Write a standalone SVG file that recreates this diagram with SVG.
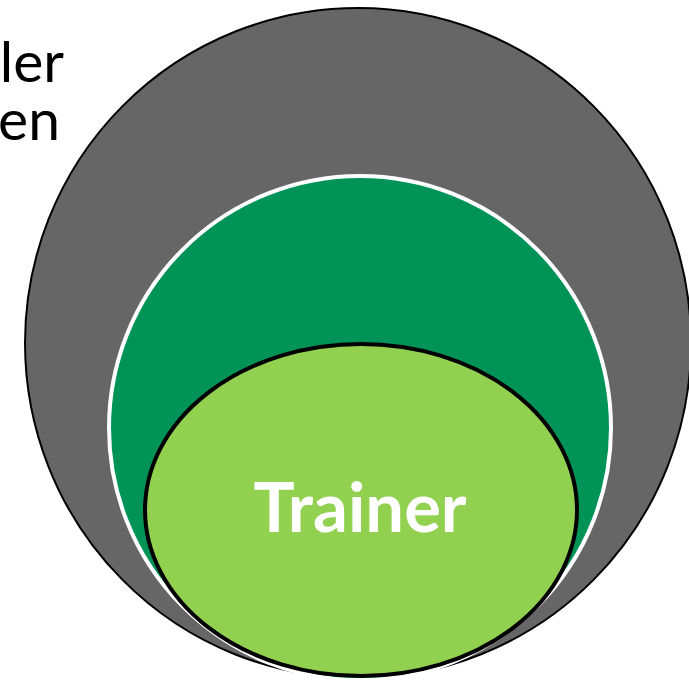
<svg xmlns="http://www.w3.org/2000/svg" width="689" height="680" viewBox="0 0 689 680">
<style>
.side{font-family:Lato,"Open Sans","Liberation Sans",sans-serif;font-size:57px;fill:#000}
.lbl{font-family:Lato,"Open Sans","Liberation Sans",sans-serif;font-size:68px;font-weight:bold;fill:#fff}
</style>
<rect width="689" height="680" fill="#fff"/>
<g id="side-text">
<text class="side" x="64" y="82" text-anchor="end">ler</text>
<text class="side" x="60" y="140" text-anchor="end">en</text>
</g>
<g id="outer">
<ellipse cx="358" cy="343" rx="333" ry="335" fill="#666666" stroke="#000" stroke-width="2"/>
</g>
<g id="middle">
<ellipse cx="360" cy="428" rx="251" ry="252" fill="#009357" stroke="#fff" stroke-width="4"/>
</g>
<g id="inner">
<ellipse cx="361" cy="510" rx="216" ry="166" fill="#92d050" stroke="#000" stroke-width="4"/>
<text class="lbl" x="360" y="532" text-anchor="middle" textLength="213" lengthAdjust="spacingAndGlyphs">Trainer</text>
</g>
<g id="connectors"/>
</svg>
